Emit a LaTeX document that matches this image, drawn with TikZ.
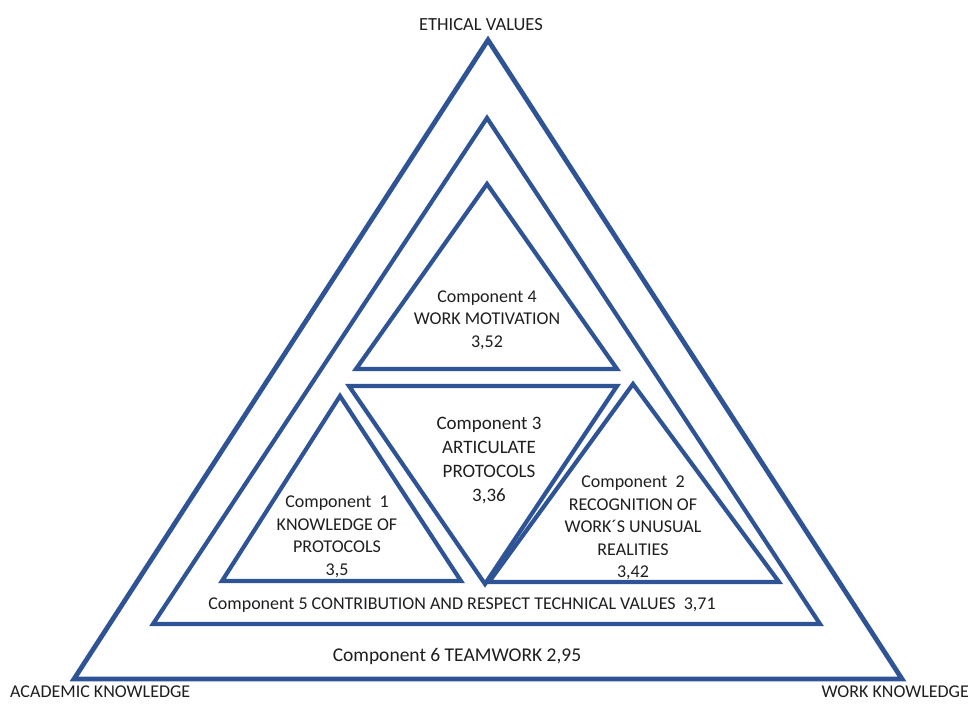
\documentclass[tikz,border=0pt]{standalone}
\usepackage{fontspec}
\setmainfont{Carlito}
\definecolor{tri}{RGB}{46,84,150}
\definecolor{txt}{RGB}{30,30,30}
\begin{document}
\begin{tikzpicture}[x=1pt,y=-1pt,
  frame/.style={draw=tri,line width=4.2pt,line join=miter},
  outerframe/.style={draw=tri,line width=4.8pt,line join=miter},
  lbl/.style={text=txt,font=\fontsize{18}{22.5}\selectfont,align=center,inner sep=0pt},
  corner/.style={text=txt,font=\fontsize{18}{20}\selectfont,inner sep=0pt}]
\useasboundingbox (0,0) rectangle (972,704);
% nested triangles
\draw[outerframe] (488,40) -- (902,679) -- (74,679) -- cycle;
\draw[frame] (487,118) -- (820,624) -- (153,624) -- cycle;
\draw[frame] (487,184) -- (617,369) -- (356,369) -- cycle;
\draw[frame] (349,386) -- (617,386) -- (485,584) -- cycle;
\draw[frame] (340,396) -- (461,581) -- (222,581) -- cycle;
\draw[frame] (633,384) -- (779,582) -- (489,582) -- cycle;
% corner captions
\node[corner,font=\fontsize{18.5}{20}\selectfont] (ethical) at (481,25) {ETHICAL VALUES};
\node[corner,anchor=west] (academic) at (10,692) {ACADEMIC KNOWLEDGE};
\node[corner,anchor=east] (work) at (969,692) {WORK KNOWLEDGE};
% component texts
\node[lbl] (c4) at (487,320) {Component 4\\WORK MOTIVATION\\3,52};
\node[lbl,font=\fontsize{19}{24}\selectfont] (c3) at (489,461) {Component 3\\ARTICULATE\\PROTOCOLS\\3,36};
\node[lbl] (c1) at (337,537) {Component\ \ 1\\KNOWLEDGE OF\\PROTOCOLS\\3,5};
\node[lbl] (c2) at (633,528) {Component\ \ 2\\RECOGNITION OF\\WORK´S UNUSUAL\\REALITIES\\3,42};
\node[lbl] (c5) at (462,605) {Component 5 CONTRIBUTION AND RESPECT TECHNICAL VALUES\ \ 3,71};
\node[lbl,font=\fontsize{19.5}{22}\selectfont] (c6) at (457,656) {Component 6 TEAMWORK 2,95};
\end{tikzpicture}
\end{document}
